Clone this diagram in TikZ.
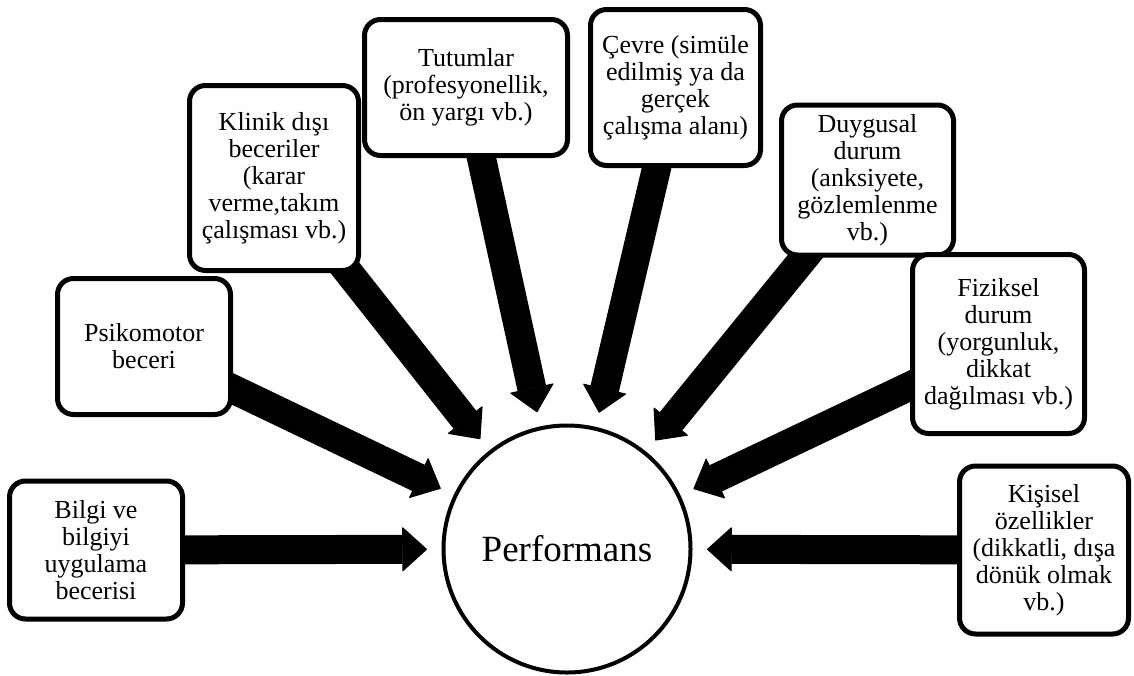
\documentclass[tikz,border=0pt]{standalone}
\usepackage{fontspec}
\setmainfont{Liberation Serif}
\usetikzlibrary{arrows.meta,backgrounds}
\tikzset{
  factor/.style={draw, line width=5pt, rounded corners=16pt, fill=white,
    align=center, inner sep=2pt, outer sep=0pt,
    font=\fontsize{26}{27}\selectfont},
  hub/.style={draw, circle, line width=4pt, fill=white, outer sep=0pt,
    minimum size=247pt, inner sep=0pt, font=\fontsize{37}{40}\selectfont},
  influence/.style={line width=29pt, shorten >=16.5pt,
    -{Triangle[width=45pt,length=25pt,line width=1pt,round]}}
}
\begin{document}
\begin{tikzpicture}[x=1pt,y=-1pt]
\useasboundingbox (0,0) rectangle (1134,675);

% central outcome
\node[hub] (perf) at (567,549) {Performans};

% contributing factors
\node[factor, minimum width=173pt, minimum height=138pt] (bilgi) at (96,550)
  {Bilgi ve\\bilgiyi\\uygulama\\becerisi};
\node[factor, minimum width=173pt, minimum height=136pt] (psiko) at (144,346.5)
  {Psikomotor\\beceri};
\node[factor, minimum width=169pt, minimum height=185pt] (klinik) at (274,178)
  {Klinik dışı\\beceriler\\(karar\\verme,takım\\çalışması vb.)};
\node[factor, minimum width=203pt, minimum height=136pt] (tutum) at (466,87.5)
  {Tutumlar\\(profesyonellik,\\ön yargı vb.)};
\node[factor, minimum width=170pt, minimum height=156pt] (cevre) at (675.5,87.5)
  {Çevre (simüle\\edilmiş ya da\\gerçek\\çalışma alanı)};
\node[factor, minimum width=172pt, minimum height=150pt] (duygu) at (867.5,180)
  {Duygusal\\durum\\(anksiyete,\\gözlemlenme\\vb.)};
\node[factor, minimum width=172pt, minimum height=179pt] (fizik) at (998.5,344)
  {Fiziksel\\durum\\(yorgunluk,\\dikkat\\dağılması vb.)};
\node[factor, minimum width=169pt, minimum height=168pt] (kisisel) at (1044,550)
  {Kişisel\\özellikler\\(dikkatli, dışa\\dönük olmak\\vb.)};

% block arrows run behind the boxes towards the centre
\begin{pgfonlayer}{background}
  \foreach \src in {bilgi,psiko,klinik,tutum,cevre,duygu,fizik,kisisel}
    \draw[influence] (\src.center) -- (perf);
\end{pgfonlayer}
\end{tikzpicture}
\end{document}
